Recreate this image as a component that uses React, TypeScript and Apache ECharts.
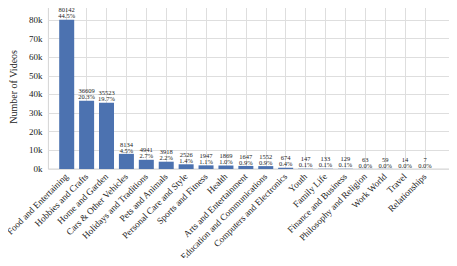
import React, { useEffect, useRef } from "react";
import * as echarts from "echarts";

const categories = [
  "Food and Entertaining",
  "Hobbies and Crafts",
  "Home and Garden",
  "Cars & Other Vehicles",
  "Holidays and Traditions",
  "Pets and Animals",
  "Personal Care and Style",
  "Sports and Fitness",
  "Health",
  "Arts and Entertainment",
  "Education and Communications",
  "Computers and Electronics",
  "Youth",
  "Family Life",
  "Finance and Business",
  "Philosophy and Religion",
  "Work World",
  "Travel",
  "Relationships",
];

const counts = [80142, 36609, 35523, 8134, 4941, 3918, 2526, 1947, 1869, 1647, 1552, 674, 147, 133, 129, 63, 59, 14, 7];

const percents = ["44.5%", "20.3%", "19.7%", "4.5%", "2.7%", "2.2%", "1.4%", "1.1%", "1.0%", "0.9%", "0.9%", "0.4%", "0.1%", "0.1%", "0.1%", "0.0%", "0.0%", "0.0%", "0.0%"];

const yMax = 88156;
const yInterval = 10000;

const FONT = "'Liberation Serif', 'Times New Roman', serif";
const GRID_COLOR = "#dedede";

export default function App() {
  const ref = useRef<HTMLDivElement>(null);
  useEffect(() => {
    if (!ref.current) return;
    const chart = echarts.init(ref.current, undefined, { renderer: "svg" });
    chart.setOption({
      animation: false,
      backgroundColor: "#ffffff",
      grid: [
        { left: 39.5, right: 5.5, top: 4.7, bottom: 97, show: true, borderColor: "#d4d4d4", borderWidth: 1, backgroundColor: "transparent" },
        { left: 66.7, right: 32, top: 4.7, bottom: 97 },
      ],
      xAxis: [
        { type: "value", gridIndex: 0, min: 0, max: 1, show: false },
        {
          type: "category",
          gridIndex: 1,
          data: categories,
          boundaryGap: false,
          axisLine: { show: false },
          axisTick: { show: false },
          splitLine: { show: true, lineStyle: { color: GRID_COLOR, width: 1 } },
          axisLabel: {
            interval: 0,
            rotate: 45,
            fontFamily: FONT,
            fontSize: 9.2,
            color: "#222",
            margin: 6,
          },
        },
      ],
      yAxis: [
        {
          type: "value",
          gridIndex: 0,
          min: 0,
          max: yMax,
          interval: yInterval,
          name: "Number of Videos",
          nameLocation: "middle",
          nameGap: 20,
          nameTextStyle: { fontFamily: FONT, fontSize: 10, color: "#222" },
          axisLine: { show: false },
          axisTick: { show: false },
          splitLine: { show: true, lineStyle: { color: GRID_COLOR, width: 1 } },
          axisLabel: {
            fontFamily: FONT,
            fontSize: 9,
            color: "#222",
            margin: 6,
            formatter: (v: number) => (v % yInterval === 0 ? `${v / 1000}k` : ""),
          },
        },
        { type: "value", gridIndex: 1, min: 0, max: yMax, show: false },
      ],
      series: [
        {
          type: "bar",
          xAxisIndex: 1,
          yAxisIndex: 1,
          data: counts,
          barWidth: 15,
          clip: false,
          z: 5,
          itemStyle: { color: "#4C72B0" },
          label: {
            show: true,
            position: "top",
            distance: 0.8,
            fontFamily: FONT,
            fontSize: 6.5,
            lineHeight: 6,
            color: "#222",
            formatter: (p: any) => `${counts[p.dataIndex]}\n${percents[p.dataIndex]}`,
          },
        },
      ],
    });
    return () => chart.dispose();
  }, []);
  return <div ref={ref} style={{ width: 457, height: 266, margin: -8 }} />;
}
